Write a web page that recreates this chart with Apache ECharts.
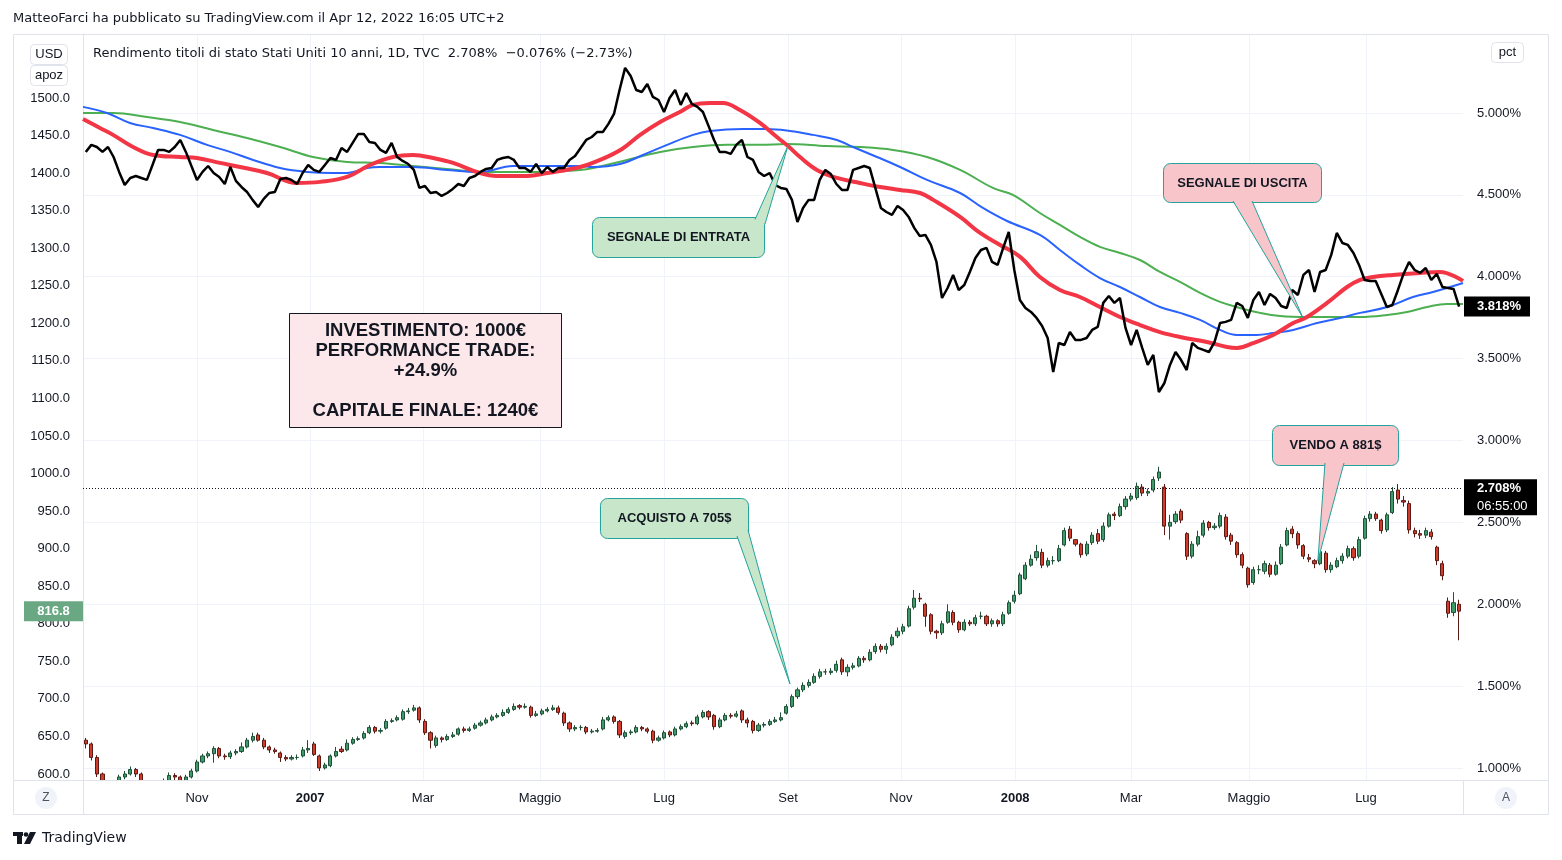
<!DOCTYPE html>
<html><head><meta charset="utf-8">
<script src="https://cdn.jsdelivr.net/npm/echarts@6/dist/echarts.min.js"></script>
<style>html,body{margin:0;padding:0;background:#fff}#c{width:1562px;height:860px}</style>
</head><body><div id="c"></div>
<script>
const FONT = '"Liberation Sans", "DejaVu Sans", Arial, sans-serif';
const FONT2 = '"DejaVu Sans", "Liberation Sans", sans-serif';

// x axis: trading-day index; first trading day of month ticks
const monthTickDays = [41, 81.7, 122.3, 164.4, 209, 253.6, 294.2, 335.3, 377, 419.4, 461.5];
const monthTickLabels = ['Nov', '2007', 'Mar', 'Maggio', 'Lug', 'Set', 'Nov', '2008', 'Mar', 'Maggio', 'Lug'];
const usdTicks = [600, 650, 700, 750, 800, 850, 900, 950, 1000, 1050, 1100, 1150, 1200, 1250, 1300, 1350, 1400, 1450, 1500];
const pctTicks = [1, 1.5, 2, 2.5, 3, 3.5, 4, 4.5, 5];

// US 10Y yield (%), one value every 2 trading days
const yieldVals = [4.762,4.805,4.792,4.762,4.792,4.731,4.640,4.560,4.603,4.615,4.603,4.591,4.682,4.774,4.774,4.762,4.792,4.835,4.762,4.676,
4.591,4.640,4.676,4.633,4.609,4.566,4.670,4.585,4.548,4.517,4.469,4.426,4.475,4.511,4.517,4.597,4.603,4.591,4.566,4.633,
4.682,4.652,4.640,4.682,4.725,4.713,4.786,4.762,4.817,4.872,4.872,4.823,4.817,4.774,4.756,4.817,4.731,4.707,4.688,4.652,
4.542,4.554,4.511,4.517,4.493,4.511,4.536,4.566,4.554,4.603,4.615,4.640,4.658,4.664,4.713,4.725,4.731,4.713,4.664,4.664,
4.640,4.688,4.633,4.670,4.640,4.664,4.664,4.713,4.737,4.786,4.835,4.853,4.884,4.884,4.933,4.994,5.140,5.275,5.226,5.140,
5.128,5.177,5.098,5.079,5.006,5.091,5.140,5.049,5.122,5.055,5.037,5.006,4.921,4.835,4.762,4.762,4.750,4.805,4.835,4.731,
4.713,4.640,4.615,4.633,4.560,4.542,4.536,4.469,4.334,4.420,4.469,4.469,4.591,4.652,4.627,4.566,4.530,4.530,4.652,4.664,
4.676,4.664,4.542,4.420,4.395,4.377,4.432,4.407,4.365,4.298,4.249,4.255,4.194,4.090,3.870,3.931,4.011,3.919,3.949,4.029,
4.114,4.163,4.176,4.090,4.072,4.176,4.273,4.041,3.858,3.809,3.785,3.748,3.699,3.626,3.418,3.595,3.583,3.662,3.614,3.614,
3.626,3.675,3.693,3.840,3.882,3.840,3.870,3.687,3.583,3.675,3.565,3.461,3.522,3.296,3.351,3.461,3.540,3.491,3.430,3.595,
3.565,3.553,3.540,3.601,3.717,3.724,3.736,3.840,3.821,3.748,3.858,3.907,3.827,3.895,3.870,3.821,3.809,3.919,3.888,4.011,
4.041,3.907,4.029,4.041,4.133,4.267,4.206,4.194,4.145,4.072,3.980,3.974,3.974,3.895,3.815,3.827,3.919,4.017,4.090,4.041,
4.023,4.053,3.980,4.017,3.937,3.931,3.925,3.818];

// Gold (USD) candles every 2 trading days: [open, close, low, high]
const goldOHLC = [
[645,640,634,648],[640,622,618,642],[622,600,596,625],[600,588,582,602],[588,578,572,591],[578,584,574,588],[584,596,582,599],[596,600,593,604],[600,606,598,610],[606,600,596,608],
[600,585,582,602],[585,570,565,587],[570,575,566,579],[575,582,573,585],[582,590,580,594],[590,598,588,602],[598,596,592,601],[596,588,585,598],[588,596,586,599],[596,604,594,607],
[604,616,602,619],[616,624,614,627],[624,627,621,630],[627,634,615,637],[634,624,621,636],[624,623,619,627],[623,628,620,631],[628,630,625,633],[630,636,628,642],[636,645,634,648],
[645,650,642,655],[652,645,643,655],[645,636,633,648],[636,632,628,638],[632,630,627,635],[628,622,616,630],[622,620,617,625],[620,622,618,625],[622,622,619,626],[624,632,622,636],
[632,634,628,645],[640,626,624,643],[624,608,604,626],[608,612,606,615],[611,624,609,626],[624,630,622,636],[633,630,628,637],[632,641,630,646],[641,646,639,649],[646,647,644,650],
[648,654,646,657],[655,662,653,665],[662,657,654,664],[657,658,654,661],[661,670,659,673],[670,671,668,674],[672,675,670,678],[673,683,671,686],[683,684,680,688],[685,688,683,692],
[688,672,668,690],[670,655,652,673],[655,645,634,657],[638,648,635,651],[648,646,642,650],[646,650,644,653],[650,652,648,656],[653,660,651,662],[660,658,655,663],[658,660,656,663],
[661,665,659,668],[665,668,663,671],[668,672,666,675],[672,676,670,679],[676,678,674,681],[678,682,676,686],[682,686,680,689],[686,690,684,694],[691,689,686,693],[689,690,687,694],
[689,678,675,691],[678,680,676,684],[680,684,678,687],[684,686,682,689],[686,688,684,692],[688,682,679,691],[681,668,664,683],[668,660,656,670],[660,662,657,665],[662,662,658,665],
[662,656,653,664],[656,657,654,660],[657,658,655,661],[660,672,658,676],[672,675,670,678],[676,670,667,678],[670,652,648,672],[650,655,647,658],[655,656,652,659],[656,662,654,665],
[662,660,657,664],[660,657,654,662],[657,645,641,659],[645,648,643,651],[648,655,646,658],[656,652,649,658],[652,660,650,663],[660,663,658,666],[663,667,661,670],[668,667,664,671],
[667,676,665,679],[676,682,674,685],[683,676,672,685],[678,663,659,680],[663,672,661,675],[672,678,670,681],[678,677,674,681],[677,680,675,684],[684,672,668,686],[672,668,662,675],
[670,658,654,672],[658,665,656,668],[665,666,662,669],[666,670,664,673],[670,672,668,676],[672,675,670,682],[681,690,679,693],[690,703,688,706],[703,712,700,715],[712,718,709,722],
[718,722,715,726],[722,730,720,734],[730,736,727,740],[736,736,732,740],[735,737,732,741],[738,746,735,751],[752,736,732,755],[736,742,730,746],[742,744,739,748],[744,754,742,757],
[754,752,748,757],[752,762,750,766],[763,770,760,774],[770,766,762,773],[766,770,760,774],[772,782,770,786],[784,790,781,795],[790,796,786,800],[797,820,795,824],[822,834,819,845],
[834,833,829,841],[826,810,796,828],[812,790,786,814],[790,788,780,792],[788,800,785,804],[802,816,800,826],[815,802,798,818],[802,792,788,804],[792,802,790,806],[802,800,797,805],
[800,808,797,812],[810,810,806,816],[810,800,797,812],[800,804,796,807],[804,800,796,806],[800,812,797,816],[814,828,812,831],[830,838,827,844],[840,865,838,868],[860,878,858,882],
[878,886,876,892],[888,896,884,905],[895,878,874,900],[878,884,875,888],[884,884,879,890],[884,900,882,905],[905,924,903,928],[926,914,910,930],[912,906,903,912],[906,892,888,908],
[893,906,890,910],[908,918,905,922],[920,910,906,926],[912,930,909,935],[930,945,928,948],[946,944,938,949],[944,956,942,960],[956,966,952,970],[966,970,963,974],[968,983,965,988],
[982,974,970,986],[974,976,970,980],[978,992,975,996],[994,1002,990,1009],[982,930,918,986],[930,935,912,945],[936,946,933,950],[950,938,934,953],[920,890,885,922],[890,906,887,910],
[906,916,903,924],[918,934,915,938],[935,928,924,937],[928,930,925,934],[930,944,927,948],[942,916,912,946],[918,910,905,921],[908,892,888,910],[892,878,874,895],[874,852,848,876],
[855,872,852,876],[872,872,866,878],[870,880,866,884],[878,866,862,881],[866,878,864,883],[880,902,878,906],[905,924,903,928],[926,920,914,930],[920,905,900,923],[904,890,886,906],
[888,886,882,893],[884,880,874,886],[880,896,878,900],[894,872,868,897],[872,878,868,882],[876,884,874,888],[884,890,880,894],[890,900,887,904],[900,888,884,903],[890,912,887,916],
[914,940,912,944],[940,946,936,950],[946,940,937,949],[938,924,920,940],[925,945,922,948],[948,976,946,982],[978,966,960,986],[964,962,956,970],[960,925,920,964],[924,920,915,928],
[920,918,913,925],[918,924,914,928],[922,916,912,926],[902,884,878,904],[880,864,858,884],[830,814,808,835],[815,828,810,842],[826,816.8,778,832]];

// Moving averages of the yield: [trading day, %]
const redMA = [[0,4.963],[6.1,4.908],[10.8,4.866],[18,4.792],[25.2,4.743],[34.9,4.731],[41,4.725],[49.3,4.695],[56.5,4.670],[66.2,4.633],[77,4.572],[85.3,4.579],[95,4.609],[103.2,4.682],[111.5,4.731],[118.7,4.743],[125.9,4.725],[133.1,4.695],[142.8,4.633],[148.9,4.615],[159.7,4.615],[166.9,4.633],[178.8,4.670],[186,4.713],[193.9,4.780],[200.4,4.866],[207.6,4.945],[214.7,5.006],[219.4,5.049],[225.5,5.061],[230.2,5.061],[236.3,5.018],[243.5,4.939],[249.6,4.853],[253.6,4.798],[257.9,4.731],[264,4.652],[271.2,4.603],[279.5,4.572],[286.7,4.548],[293.9,4.530],[301.1,4.511],[305.8,4.469],[315.5,4.365],[322.7,4.267],[329.9,4.194],[337.1,4.121],[344.2,3.998],[351.4,3.919],[358.6,3.876],[365.8,3.815],[373,3.754],[380.2,3.705],[387.4,3.662],[394.6,3.632],[404.3,3.601],[411.5,3.571],[415.1,3.565],[420.9,3.595],[428.1,3.644],[435.3,3.717],[440.3,3.754],[447.5,3.840],[454.7,3.937],[459.4,3.980],[464,3.998],[471.2,4.011],[480.9,4.023],[488.1,4.029],[496.4,3.974]];
const blueMA = [[0,5.037],[8.6,5.000],[16.9,4.939],[25.2,4.908],[34.9,4.866],[44.6,4.805],[52.9,4.762],[61.2,4.713],[70.9,4.664],[80.6,4.640],[89.9,4.633],[95,4.633],[102.2,4.664],[106.8,4.670],[118.7,4.670],[130.9,4.652],[142.8,4.640],[154.7,4.676],[166.9,4.676],[178.8,4.676],[183.5,4.670],[193.2,4.688],[201.4,4.743],[210.1,4.805],[219.4,4.866],[225.5,4.890],[237.4,4.902],[246,4.902],[254.3,4.890],[262.6,4.866],[271.2,4.835],[277,4.792],[285.6,4.731],[293.9,4.670],[303.6,4.591],[315.5,4.511],[323.7,4.420],[332.4,4.340],[344.2,4.255],[351.4,4.163],[358.6,4.072],[365.8,3.992],[373,3.937],[380.2,3.876],[387.4,3.815],[394.6,3.779],[401.8,3.736],[409,3.675],[415.1,3.644],[422.3,3.644],[428.1,3.656],[435.3,3.675],[443.9,3.717],[452.2,3.748],[459.4,3.779],[469.1,3.815],[478.4,3.876],[485.6,3.907],[491.7,3.937],[496.4,3.962]];
const greenMA = [[0,5.000],[10.8,5.000],[23,4.975],[34.9,4.945],[46.8,4.896],[59,4.847],[70.9,4.792],[82.7,4.731],[95,4.701],[106.8,4.695],[118.7,4.676],[130.9,4.658],[142.8,4.640],[154.7,4.640],[166.9,4.640],[178.8,4.652],[183.5,4.664],[195.7,4.713],[207.6,4.762],[219.4,4.792],[231.7,4.805],[243.5,4.805],[253.2,4.811],[267.6,4.798],[279.5,4.792],[291.4,4.774],[303.6,4.731],[315.5,4.652],[327.3,4.542],[334.5,4.499],[344.2,4.389],[351.4,4.316],[358.6,4.243],[365.8,4.182],[373,4.145],[380.2,4.102],[387.4,4.029],[394.6,3.968],[401.8,3.901],[409,3.846],[416.2,3.809],[423.4,3.779],[430.6,3.760],[440.3,3.754],[449.6,3.754],[459.4,3.754],[469.1,3.766],[476.3,3.785],[483.5,3.815],[490.6,3.834],[496.4,3.834]];

const lastYieldQuote = 2.708;

const candleData = goldOHLC.map((c, i) => [1 + 2 * i, c[0], c[1], c[2], c[3]]);
const yieldData = yieldVals.map((v, i) => [1 + 2 * i, v]);

const chart = echarts.init(document.getElementById('c'), null, {renderer: 'canvas'});
const TXT = '#131722';
const SEP = '#e0e3eb';
const GRID = '#f0f3fa';

function monthLabel(v) {
  let idx = -1;
  monthTickDays.forEach((d, i) => { if (Math.abs(d - v) < 1e-6) idx = i; });
  const s = idx >= 0 ? monthTickLabels[idx] : '';
  return /^\d{4}$/.test(s) ? '{b|' + s + '}' : s;
}

chart.setOption({
  animation: false,
  backgroundColor: '#ffffff',
  grid: {left: 83, right: 99, top: 34, bottom: 80, containLabel: false},
  xAxis: [
    {
      type: 'value', min: 0, max: 496.4, z: 0,
      axisLine: {show: false},
      axisTick: {show: false, customValues: monthTickDays},
      splitLine: {show: true, lineStyle: {color: GRID, width: 1}},
      axisLabel: {show: false, customValues: monthTickDays}
    },
    {
      type: 'value', min: 0, max: 496.4, z: 60, position: 'bottom',
      axisLine: {show: true, onZero: false, lineStyle: {color: SEP, width: 1}},
      axisTick: {show: false, customValues: monthTickDays},
      splitLine: {show: false},
      axisLabel: {
        customValues: monthTickDays, margin: 12, color: TXT, fontSize: 13, fontFamily: FONT,
        formatter: monthLabel,
        rich: {b: {fontWeight: 'bold', fontSize: 13, color: TXT, fontFamily: FONT}}
      }
    }
  ],
  yAxis: [
    {
      type: 'value', position: 'left', min: 592.0, max: 1585.2,
      axisLine: {show: true, lineStyle: {color: SEP}},
      axisTick: {show: false, customValues: usdTicks},
      splitLine: {show: false},
      axisLabel: {customValues: usdTicks, margin: 13, color: TXT, fontSize: 13, fontFamily: FONT,
        formatter: v => v.toFixed(1)}
    },
    {
      type: 'value', position: 'right', min: 0.9267, max: 5.482,
      axisLine: {show: true, lineStyle: {color: SEP}},
      axisTick: {show: false, customValues: pctTicks},
      splitLine: {show: true, lineStyle: {color: GRID}},
      axisLabel: {customValues: pctTicks, margin: 14, color: TXT, fontSize: 13, fontFamily: FONT,
        formatter: v => v.toFixed(3) + '%'}
    }
  ],
  series: [
    {
      name: 'Gold', type: 'candlestick', xAxisIndex: 0, yAxisIndex: 0,
      data: candleData, encode: {x: 0, y: [1, 2, 3, 4]},
      barWidth: 3.6, clip: true, z: 2,
      itemStyle: {color: '#3f9a6a', color0: '#d23b2c', borderColor: '#1f4f36', borderColor0: '#5a1a14', borderWidth: 1}
    },
    {
      name: 'MA150', type: 'line', yAxisIndex: 1, data: greenMA, smooth: 0.4, showSymbol: false,
      lineStyle: {color: '#4caf50', width: 2}, z: 3, silent: true
    },
    {
      name: 'MA100', type: 'line', yAxisIndex: 1, data: blueMA, smooth: 0.4, showSymbol: false,
      lineStyle: {color: '#2962ff', width: 2}, z: 3, silent: true
    },
    {
      name: 'MA50', type: 'line', yAxisIndex: 1, data: redMA, smooth: 0.4, showSymbol: false,
      lineStyle: {color: '#f23645', width: 4}, z: 4, silent: true
    },
    {
      name: 'US10Y', type: 'line', yAxisIndex: 1, data: yieldData, showSymbol: false,
      lineStyle: {color: '#000000', width: 2.5}, z: 5, silent: true,
      markLine: {
        silent: true, symbol: ['none', 'none'], label: {show: false},
        lineStyle: {color: '#131722', type: [1, 2], width: 1},
        data: [{yAxis: lastYieldQuote}]
      }
    }
  ]
});

// ---------- annotations ----------
function px(axisY, x, y) { return chart.convertToPixel({xAxisIndex: 0, yAxisIndex: axisY}, [x, y]); }

function callout(box, base, tip, fill, text) {
  const stroke = '#23a39c';
  const p1 = [base[0], base[1]], p2 = [base[2], base[3]];
  return [
    {type: 'rect', shape: {x: box[0], y: box[1], width: box[2], height: box[3], r: 7},
     style: {fill: fill, stroke: stroke, lineWidth: 1}, z: 100},
    {type: 'polygon', shape: {points: [p1, tip, p2]},
     style: {fill: fill, stroke: null}, z: 101},
    {type: 'polyline', shape: {points: [p1, tip, p2]},
     style: {stroke: stroke, lineWidth: 1, fill: null}, z: 102},
    {type: 'text', x: box[0] + box[2] / 2, y: box[1] + box[3] / 2, z: 103,
     style: {text: text, fill: TXT, font: 'bold 13px ' + FONT, align: 'center', verticalAlign: 'middle'}}
  ];
}

const tipEntrata = px(1, 253.6, 4.80);
const tipUscita = px(1, 438.8, 3.75);
const tipAcquisto = px(0, 254.3, 720);
const tipVendo = px(0, 444.2, 884);
const lastYieldPx = px(1, 1 + 2 * (yieldVals.length - 1), yieldVals[yieldVals.length - 1]);
const quotePx = px(1, 0, lastYieldQuote);
const lastGold = goldOHLC[goldOHLC.length - 1][1];
const goldPx = px(0, 0, lastGold);

let g = [];
// cover for candle parts overflowing the plot bottom
g.push({type: 'rect', shape: {x: 84, y: 781, width: 1379, height: 33}, style: {fill: '#ffffff'}, z: 55});
// frame
g.push({type: 'rect', shape: {x: 13.5, y: 34.5, width: 1535, height: 780}, style: {fill: null, stroke: SEP, lineWidth: 1}, z: 56});
g.push({type: 'line', shape: {x1: 13, y1: 780.5, x2: 1549, y2: 780.5}, style: {stroke: SEP, lineWidth: 1}, z: 56});
g.push({type: 'line', shape: {x1: 83.5, y1: 780, x2: 83.5, y2: 815}, style: {stroke: SEP, lineWidth: 1}, z: 56});
g.push({type: 'line', shape: {x1: 1463.5, y1: 780, x2: 1463.5, y2: 815}, style: {stroke: SEP, lineWidth: 1}, z: 56});
// header
g.push({type: 'text', x: 13, y: 19, style: {text: 'MatteoFarci ha pubblicato su TradingView.com il Apr 12, 2022 16:05 UTC+2', fill: TXT, font: '13px ' + FONT2, verticalAlign: 'middle'}, z: 60});
g.push({type: 'text', x: 93, y: 54, style: {text: 'Rendimento titoli di stato Stati Uniti 10 anni, 1D, TVC  2.708%  \u22120.076% (\u22122.73%)', fill: TXT, font: '13px ' + FONT2, verticalAlign: 'middle'}, z: 60});
// unit boxes
g.push({type: 'rect', shape: {x: 30.5, y: 44.5, width: 37, height: 20, r: 4}, style: {fill: '#fff', stroke: SEP}, z: 60});
g.push({type: 'rect', shape: {x: 30.5, y: 65.5, width: 37, height: 20, r: 4}, style: {fill: '#fff', stroke: SEP}, z: 60});
g.push({type: 'text', x: 49, y: 54.5, style: {text: 'USD', fill: TXT, font: '13px ' + FONT, align: 'center', verticalAlign: 'middle'}, z: 61});
g.push({type: 'text', x: 49, y: 75.5, style: {text: 'apoz', fill: TXT, font: '13px ' + FONT, align: 'center', verticalAlign: 'middle'}, z: 61});
g.push({type: 'rect', shape: {x: 1491.5, y: 42.5, width: 32, height: 20, r: 4}, style: {fill: '#fff', stroke: SEP}, z: 60});
g.push({type: 'text', x: 1507.5, y: 52.5, style: {text: 'pct', fill: TXT, font: '13px ' + FONT, align: 'center', verticalAlign: 'middle'}, z: 61});
// Z / A buttons
g.push({type: 'circle', shape: {cx: 46, cy: 798, r: 11}, style: {fill: '#f0f3fa'}, z: 60});
g.push({type: 'text', x: 46, y: 798, style: {text: 'Z', fill: '#50535e', font: '12px ' + FONT, align: 'center', verticalAlign: 'middle'}, z: 61});
g.push({type: 'circle', shape: {cx: 1506, cy: 798, r: 11}, style: {fill: '#f0f3fa'}, z: 60});
g.push({type: 'text', x: 1506, y: 798, style: {text: 'A', fill: '#50535e', font: '12px ' + FONT, align: 'center', verticalAlign: 'middle'}, z: 61});
// footer logo
g.push({type: 'rect', shape: {x: 13, y: 832, width: 10, height: 4}, style: {fill: TXT}, z: 60});
g.push({type: 'rect', shape: {x: 17, y: 832, width: 5, height: 12}, style: {fill: TXT}, z: 60});
g.push({type: 'circle', shape: {cx: 26, cy: 834.5, r: 2.3}, style: {fill: TXT}, z: 60});
g.push({type: 'polygon', shape: {points: [[30, 832], [36, 832], [30, 844], [24, 844]]}, style: {fill: TXT}, z: 60});
g.push({type: 'text', x: 42, y: 838.5, style: {text: 'TradingView', fill: TXT, font: '14px ' + FONT2, verticalAlign: 'middle'}, z: 60});

// last value labels
g.push({type: 'rect', shape: {x: 1464, y: lastYieldPx[1] - 10, width: 66, height: 20}, style: {fill: '#000'}, z: 70});
g.push({type: 'text', x: 1477, y: lastYieldPx[1], style: {text: yieldVals[yieldVals.length - 1].toFixed(3) + '%', fill: '#fff', font: 'bold 13px ' + FONT, verticalAlign: 'middle'}, z: 71});
g.push({type: 'rect', shape: {x: 1464, y: quotePx[1] - 9, width: 73, height: 36}, style: {fill: '#000'}, z: 70});
g.push({type: 'text', x: 1477, y: quotePx[1], style: {text: lastYieldQuote.toFixed(3) + '%', fill: '#fff', font: 'bold 13px ' + FONT, verticalAlign: 'middle'}, z: 71});
g.push({type: 'text', x: 1477, y: quotePx[1] + 18, style: {text: '06:55:00', fill: '#fff', font: '13px ' + FONT, verticalAlign: 'middle'}, z: 71});
g.push({type: 'rect', shape: {x: 24, y: goldPx[1] - 10, width: 59, height: 20}, style: {fill: '#6aa884'}, z: 70});
g.push({type: 'text', x: 53.5, y: goldPx[1], style: {text: lastGold.toFixed(1), fill: '#fff', font: 'bold 13px ' + FONT, align: 'center', verticalAlign: 'middle'}, z: 71});

// callouts
g = g.concat(callout([592.5, 217.5, 172, 40], [755, 219.5, 765, 224], tipEntrata, '#c8e6c9', 'SEGNALE DI ENTRATA'));
g = g.concat(callout([1163.5, 163.5, 158, 39], [1233, 201, 1252, 201], tipUscita, '#f8c6ca', 'SEGNALE DI USCITA'));
g = g.concat(callout([600.5, 498.5, 148, 40], [737, 536, 748, 530], tipAcquisto, '#c8e6c9', 'ACQUISTO A 705$'));
g = g.concat(callout([1272.5, 425.5, 126, 40], [1325, 463, 1344, 463], tipVendo, '#f8c6ca', 'VENDO A 881$'));

// result box
g.push({type: 'rect', shape: {x: 289.5, y: 313.5, width: 272, height: 114}, style: {fill: '#fce8ea', stroke: '#131722', lineWidth: 1}, z: 90});
g.push({type: 'text', x: 425.5, y: 371, style: {text: 'INVESTIMENTO: 1000\u20ac\nPERFORMANCE TRADE:\n+24.9%\n\nCAPITALE FINALE: 1240\u20ac', fill: TXT, font: 'bold 18.5px ' + FONT, align: 'center', verticalAlign: 'middle', lineHeight: 20}, z: 91});

chart.setOption({graphic: {elements: g}});
</script>
</body></html>
